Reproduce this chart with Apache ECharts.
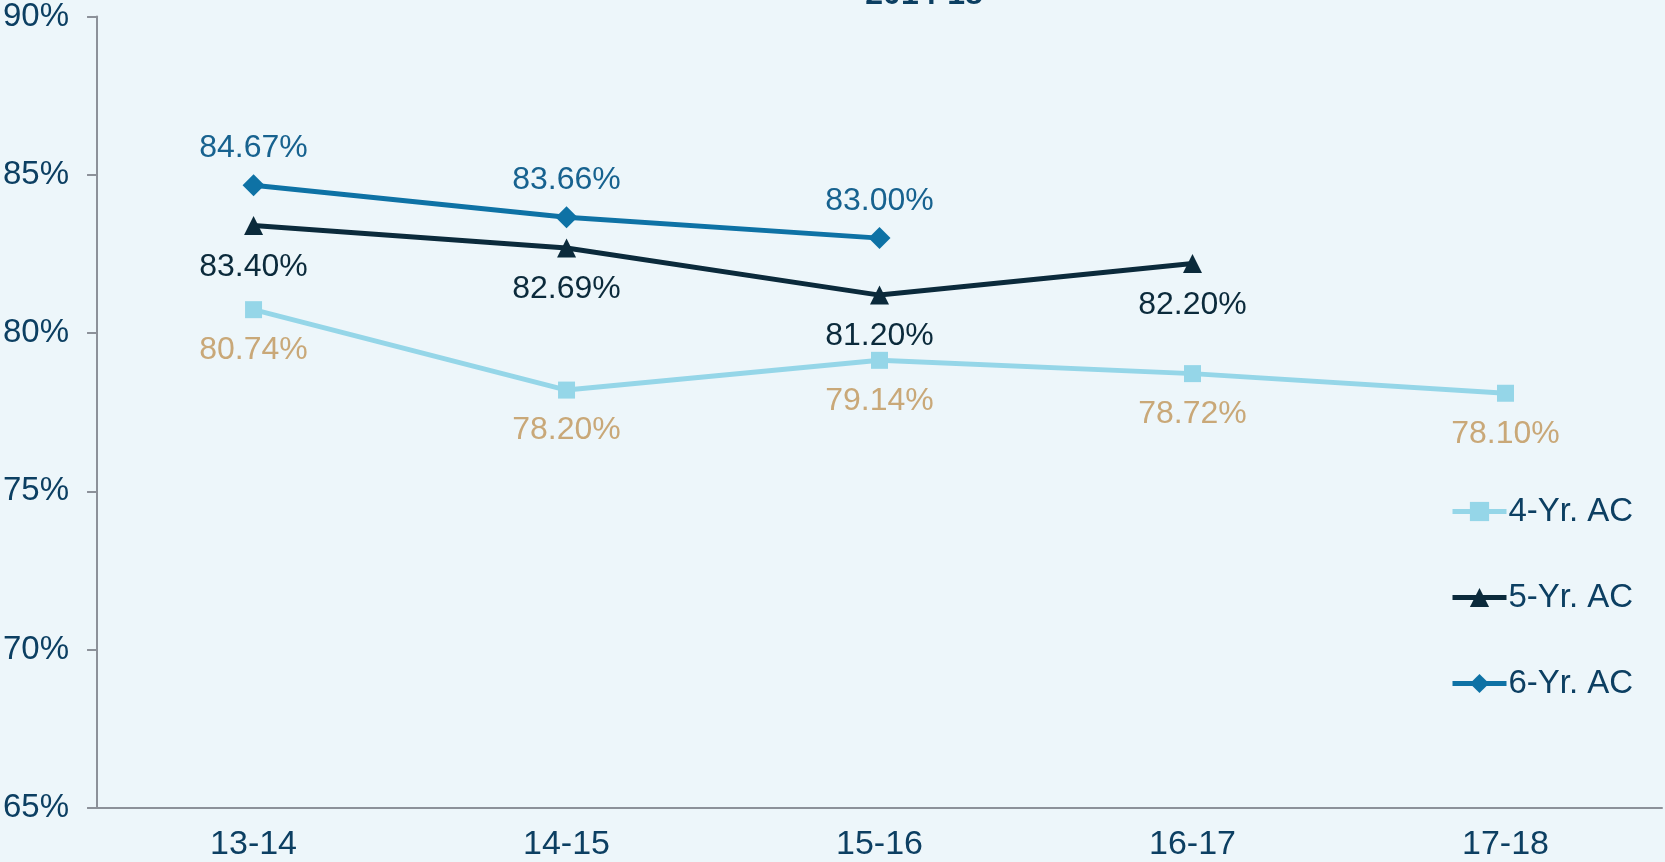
<!DOCTYPE html>
<html>
<head>
<meta charset="utf-8">
<script src="https://cdn.jsdelivr.net/npm/echarts@6/dist/echarts.min.js"></script>
<style>
  html, body { margin: 0; padding: 0; background: #edf6fa; }
  #chart { width: 1665px; height: 862px; }
</style>
</head>
<body>
<div id="chart"></div>
<script>
// 数据
const categories = ['13-14', '14-15', '15-16', '16-17', '17-18'];
const fourYr = [80.74, 78.20, 79.14, 78.72, 78.10];
const fiveYr = [83.40, 82.69, 81.20, 82.20, null];
const sixYr = [84.67, 83.66, 83.00, null, null];
const seriesNames = ['4-Yr. AC', '5-Yr. AC', '6-Yr. AC'];

const font = 'Liberation Sans, Arial, sans-serif';
const navy = '#0c3f62';

const chart = echarts.init(document.getElementById('chart'));

const labelFmt = p => p.value.toFixed(2) + '%';

const option = {
    backgroundColor: '#edf6fa',
    animation: false,
    graphic: [{
        type: 'text',
        x: 924,
        y: -21,
        style: {
            text: '2014-18',
            font: 'bold 32px ' + font,
            fill: navy,
            align: 'center',
            verticalAlign: 'top'
        }
    }],
    grid: {
        left: 97,
        right: 3,
        top: 16,
        bottom: 54
    },
    legend: {
        orient: 'vertical',
        left: 1445,
        top: 490,
        itemWidth: 54,
        itemHeight: 24,
        itemGap: 53,
        lineStyle: { width: 5 },
        textStyle: {
            fontFamily: font,
            fontSize: 33,
            color: navy,
            padding: [0, 0, 0, -3]
        },
        data: seriesNames
    },
    xAxis: {
        type: 'category',
        data: categories,
        axisLine: { lineStyle: { color: '#8c9199', width: 2 } },
        axisTick: { length: 10, lineStyle: { color: '#8c9199', width: 2 } },
        axisLabel: {
            fontFamily: font,
            fontSize: 34,
            color: navy,
            margin: 20
        }
    },
    yAxis: {
        type: 'value',
        min: 65,
        max: 90,
        interval: 5,
        axisLine: { show: true, lineStyle: { color: '#8c9199', width: 2 } },
        axisTick: { show: true, length: 10, lineStyle: { color: '#8c9199', width: 2 } },
        splitLine: { show: false },
        axisLabel: {
            formatter: '{value}%',
            fontFamily: font,
            fontSize: 33,
            color: navy,
            margin: 28
        }
    },
    series: [
        {
            name: seriesNames[0],
            type: 'line',
            data: fourYr,
            symbol: 'rect',
            symbolSize: 17,
            color: '#95d6e8',
            lineStyle: { width: 5, color: '#95d6e8' },
            label: {
                show: true,
                position: 'bottom',
                distance: 16,
                formatter: labelFmt,
                fontFamily: font,
                fontSize: 32,
                color: '#c9a878'
            }
        },
        {
            name: seriesNames[1],
            type: 'line',
            data: fiveYr,
            symbol: 'triangle',
            symbolSize: 19,
            color: '#0b2a3b',
            lineStyle: { width: 5, color: '#0b2a3b' },
            label: {
                show: true,
                position: 'bottom',
                distance: 16,
                formatter: labelFmt,
                fontFamily: font,
                fontSize: 32,
                color: '#0b2a3b'
            }
        },
        {
            name: seriesNames[2],
            type: 'line',
            data: sixYr,
            symbol: 'diamond',
            symbolSize: 22,
            color: '#0e72a5',
            lineStyle: { width: 5, color: '#0e72a5' },
            label: {
                show: true,
                position: 'top',
                distance: 10,
                formatter: labelFmt,
                fontFamily: font,
                fontSize: 32,
                color: '#17628f'
            }
        }
    ]
};

chart.setOption(option);
</script>
</body>
</html>
